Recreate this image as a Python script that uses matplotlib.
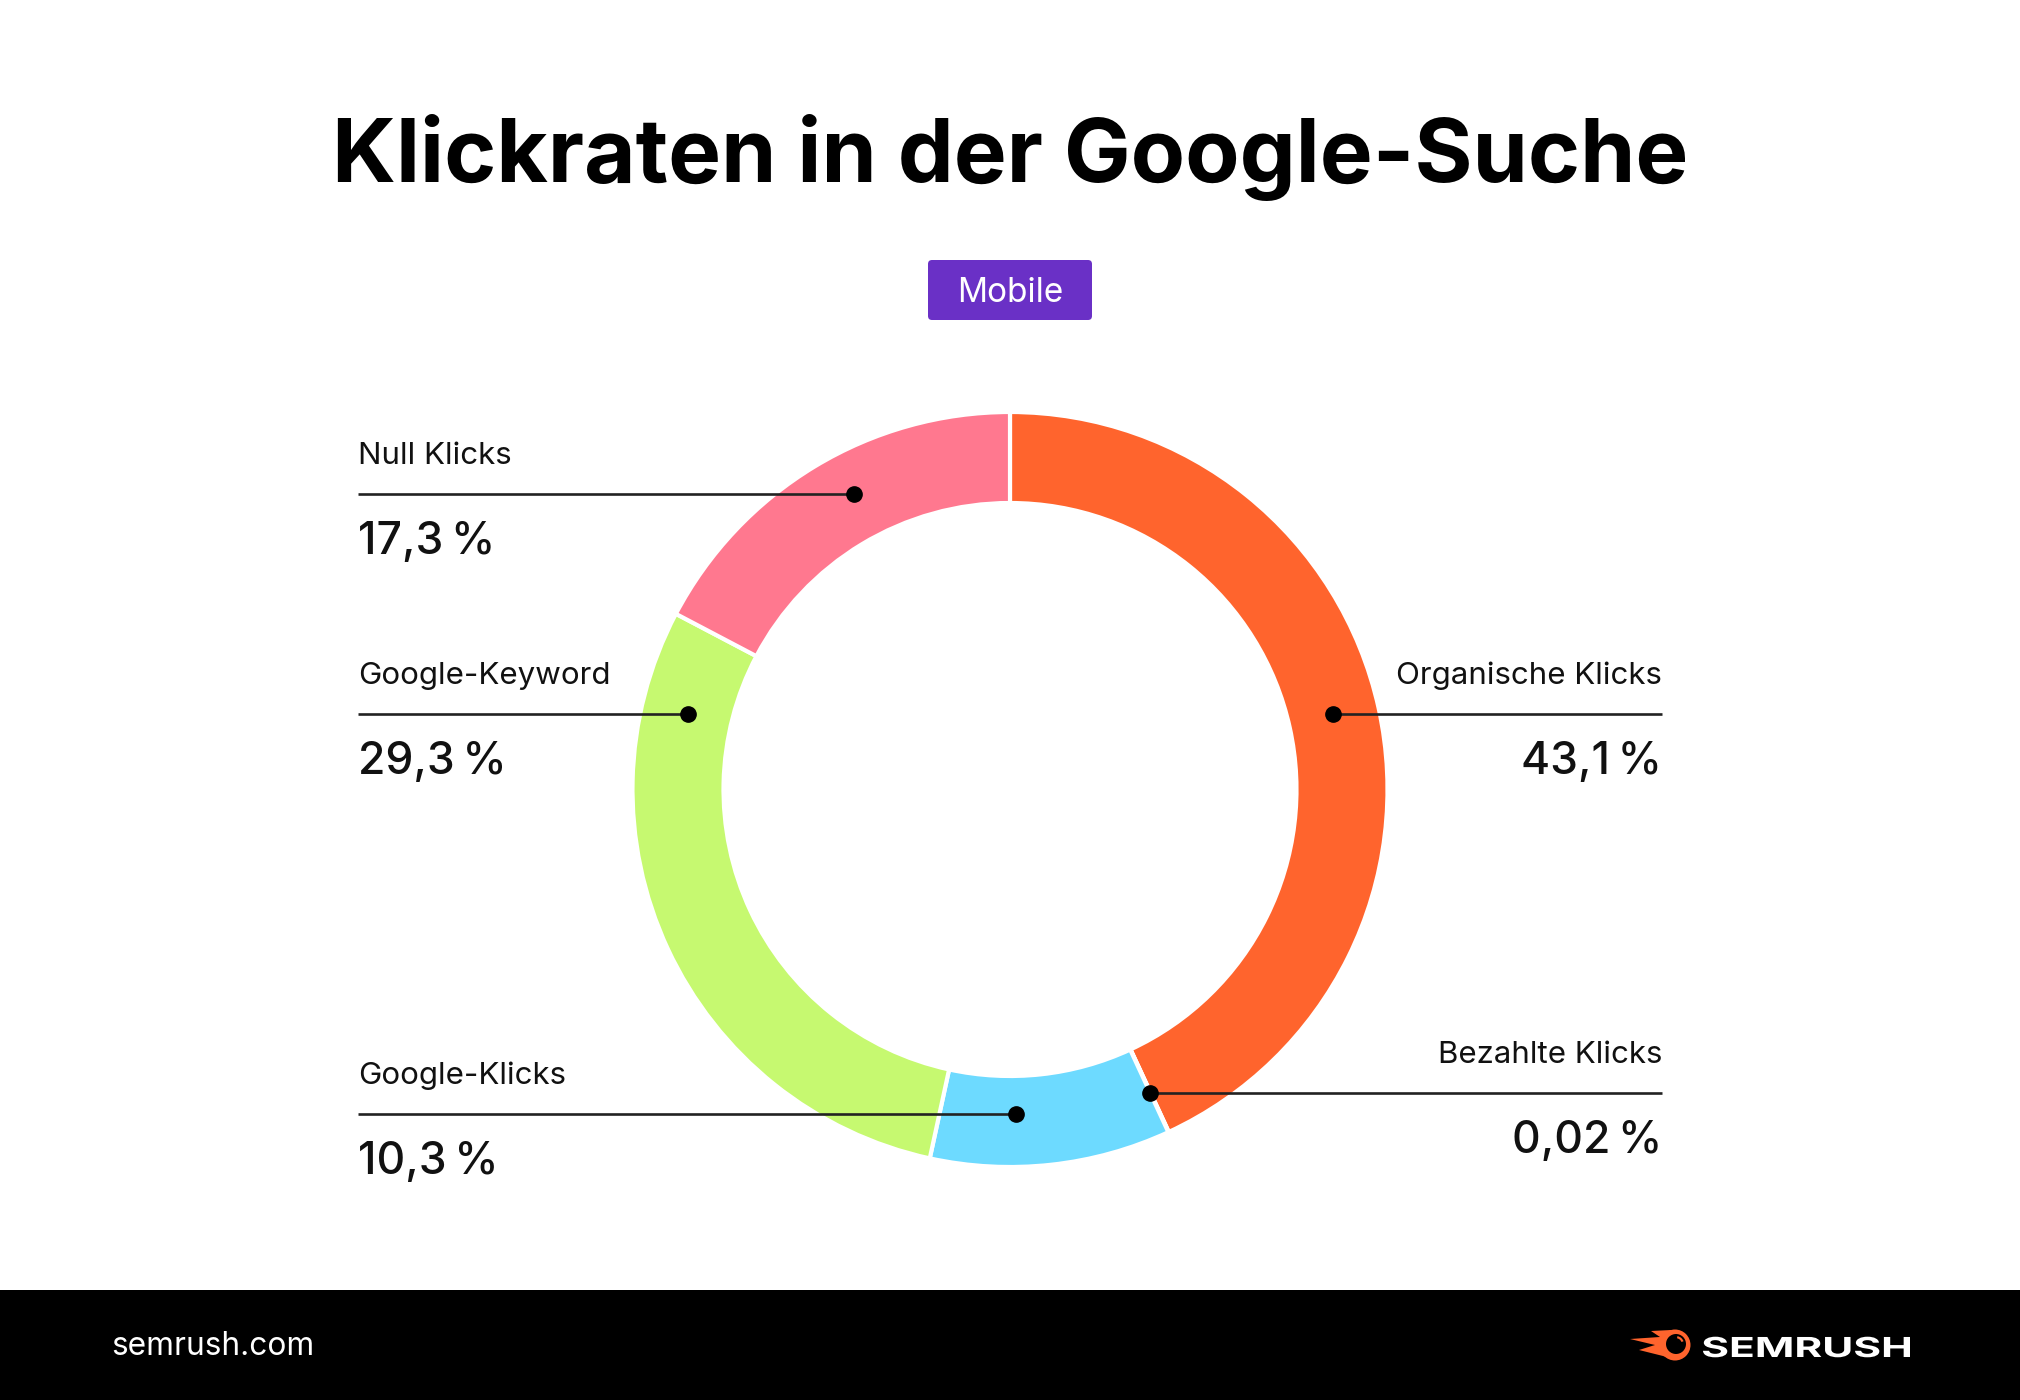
import matplotlib
matplotlib.use("Agg")
import matplotlib.pyplot as plt
import numpy as np
from matplotlib.patches import FancyBboxPatch, Rectangle, Circle, PathPatch, Polygon, Wedge
from matplotlib.textpath import TextPath
from matplotlib.font_manager import FontProperties
from matplotlib.transforms import Affine2D

W, H = 2020, 1400
FONT = "Inter"

# data
categories = ["Organische Klicks", "Bezahlte Klicks", "Google-Klicks", "Google-Keyword", "Null Klicks"]
shares = [43.1, 0.02, 10.3, 29.3, 17.3]
value_labels = ["43,1\u2009%", "0,02\u2009%", "10,3\u2009%", "29,3\u2009%", "17,3\u2009%"]
colors = ["#FF642D", "#FF642D", "#6DDAFF", "#C6F970", "#FF788F"]

# layout: which side each label sits on, and where its dot sits on the ring
sides = ["right", "right", "left", "left", "left"]
dot_angle = [76.9, 155.3, 178.9, 283.2, 332.2]      # clockwise from 12 o'clock
dot_r = [332, 334, 325, 331, 334]

CX, CY = 1010, H - 789.5
R_OUT, R_IN = 377.5, 286.5
LEFT_X, RIGHT_X = 358, 1662

fig = plt.figure(figsize=(W / 100, H / 100), dpi=100)
ax = fig.add_axes([0, 0, 1, 1])

# donut
ax.pie(shares, colors=colors, startangle=90, counterclock=False,
       center=(CX, CY), radius=R_OUT, frame=True,
       wedgeprops=dict(width=R_OUT - R_IN, edgecolor="white", linewidth=3))

# leader lines, dots, labels
for cat, val, side, a, r in zip(categories, value_labels, sides, dot_angle, dot_r):
    t = np.radians(a)
    dx, dy = CX + r * np.sin(t), CY + r * np.cos(t)
    x_end = LEFT_X if side == "left" else RIGHT_X
    ax.plot([dx, x_end], [dy, dy], color="#222222", lw=1.9, solid_capstyle="butt", zorder=4)
    ax.plot(dx, dy, "o", color="black", ms=11, zorder=5)
    ha = "left" if side == "left" else "right"
    ax.text(x_end, dy + 30, cat, ha=ha, va="baseline", fontsize=22.5, family=FONT, color="#111111")
    ax.text(x_end, dy - 60, val, ha=ha, va="baseline", fontsize=32, fontweight="medium",
            family=FONT, color="#111111")

# title
ax.text(W / 2, H - 182, "Klickraten in der Google-Suche", ha="center", va="baseline",
        fontsize=64, fontweight="bold", family=FONT, color="black")

# "Mobile" badge
ax.add_patch(FancyBboxPatch((928 + 4, H - 320 + 4), 164 - 8, 60 - 8,
                            boxstyle="round,pad=4", fc="#6A30C6", ec="none"))
ax.text(1010, H - 302, "Mobile", ha="center", va="baseline", fontsize=24,
        family=FONT, color="white")

# footer
ax.add_patch(Rectangle((0, 0), W, H - 1290, fc="black", ec="none"))
ax.text(111, H - 1355, "semrush.com", ha="left", va="baseline", fontsize=22.8,
        family=FONT, color="white")

# SEMRUSH wordmark, stretched to its box
tp = TextPath((0, 0), "SEMRUSH", size=100, prop=FontProperties(family=FONT, weight="bold"))
ext = tp.get_extents()
sx = (1910 - 1703) / ext.width
sy = 20.6 / ext.height
tr = Affine2D().translate(-ext.x0, -ext.y0).scale(sx, sy).translate(1703, H - 1357.3)
ax.add_patch(PathPatch(tr.transform_path(tp), fc="white", ec="none"))

# flame icon
ix, iy = 1675, H - 1345
flame = [(-4, 15), (-24, 14), (-15, 8), (-45, 6), (-20, 0), (-36, -5), (-12, -11), (0, -15)]
ax.add_patch(Polygon([(ix + x, iy + y) for x, y in flame], closed=True, fc="#FF642D", ec="none"))
ax.add_patch(Circle((ix, iy), 15.5, fc="#FF642D", ec="none"))
ax.add_patch(Circle((ix + 1, iy + 1), 10, fc="black", ec="none"))
ax.add_patch(Wedge((ix + 1, iy + 1), 8, 20, 80, width=2.2, fc="#FF642D", ec="none"))

ax.set_xlim(0, W)
ax.set_ylim(0, H)
ax.set_aspect("auto")
ax.axis("off")
fig.savefig("out.png", dpi=100, facecolor="white")
